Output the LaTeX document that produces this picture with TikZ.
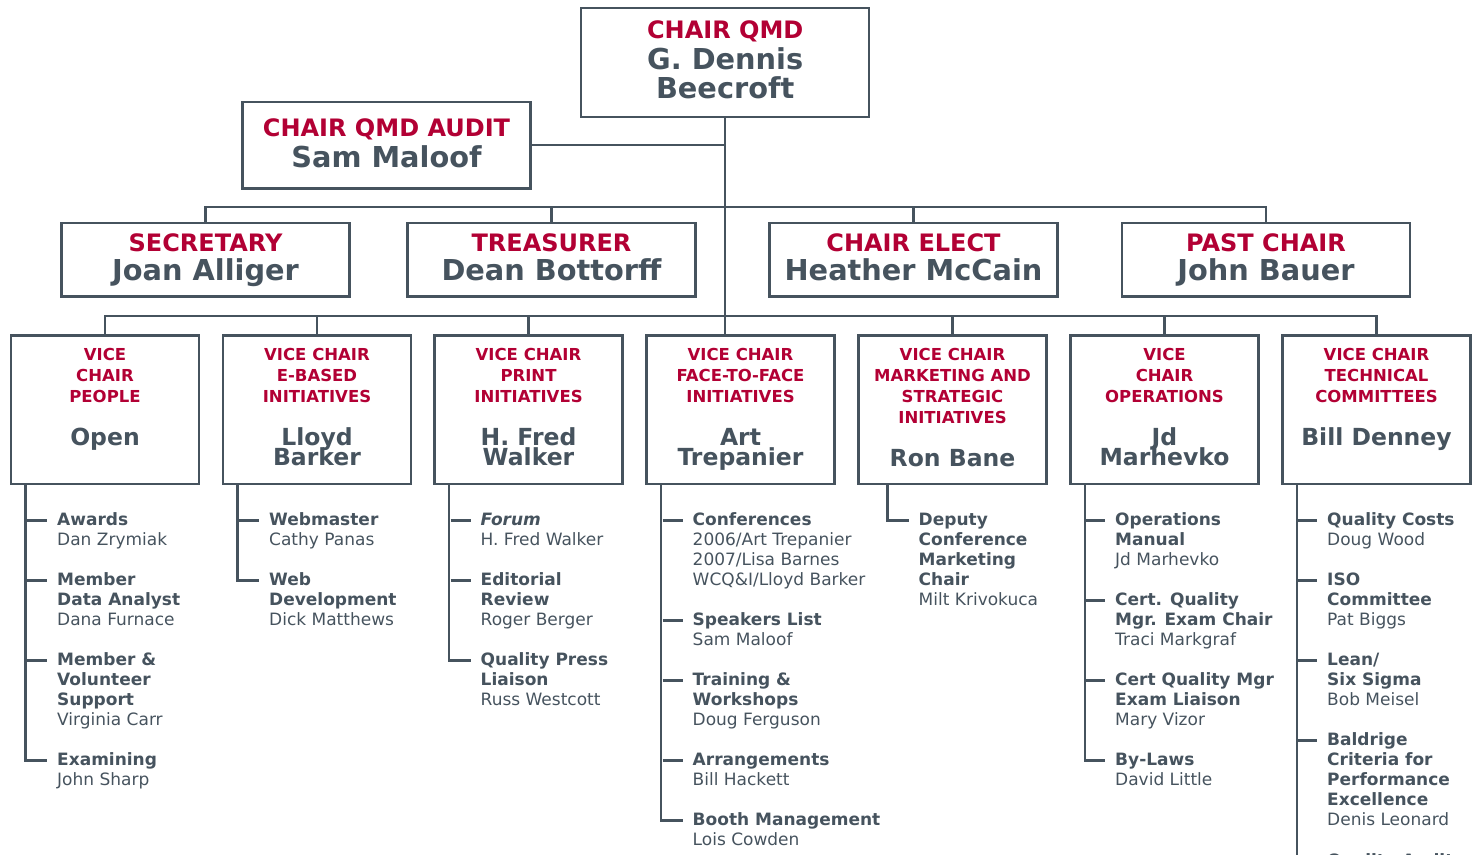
\documentclass[tikz,border=0pt]{standalone}
\usepackage{fontspec}
\setmainfont{DejaVu Sans}
\usetikzlibrary{calc}
\definecolor{qred}{HTML}{B20034}
\definecolor{qgray}{HTML}{46535E}
\newcommand{\tightlines}{\lineskiplimit=-50pt}
\tikzset{
  link/.style={draw=qgray, line width=2.4pt},
  box/.style={draw=qgray, line width=2.4pt, inner sep=0pt},
  bigbox/.style={box, minimum width=288pt, minimum height=73.6pt},
  vcbox/.style={box, minimum width=188pt, minimum height=148.5pt},
  head/.style={text=qred, anchor=base, align=center, inner sep=0pt, font=\bfseries\fontsize{24}{29}\selectfont},
  who/.style={text=qgray, anchor=base, align=center, inner sep=0pt, font=\bfseries\fontsize{28.8}{29}\selectfont\tightlines},
  vchead/.style={head, font=\bfseries\fontsize{16.5}{21}\selectfont},
  vcwho/.style={who, font=\bfseries\fontsize{23.5}{20}\selectfont\tightlines},
  item/.style={text=qgray, anchor=north west, align=left, inner sep=0pt, font=\fontsize{17}{20}\selectfont\tightlines, execute at begin node=\strut},
}
\begin{document}
\begin{tikzpicture}[x=1pt,y=-1pt]
  \useasboundingbox (0,0) rectangle (1479,854);
  \clip (0,0) rectangle (1479,854);
  % chair and audit
  \node[box, minimum width=288pt, minimum height=109pt] (chair) at (725.2,62.3) {};
  \node[head] (chairT) at (725.2,38) {CHAIR QMD};
  \node[who] (chairN) at (725.2,98) {G. Dennis\\Beecroft};
  \node[box, minimum width=288pt, minimum height=86.7pt] (audit) at (386.5,145.2) {};
  \node[head] (auditT) at (386.5,136.5) {CHAIR QMD AUDIT};
  \node[who] (auditN) at (386.5,167) {Sam Maloof};
  % officers
  \node[bigbox] (sec) at (205.5,259.5) {};
  \node[head] at (205.5,251.5) {SECRETARY};
  \node[who] at (205.5,280) {Joan Alliger};
  \node[bigbox] (treas) at (551.5,259.5) {};
  \node[head] at (551.5,251.5) {TREASURER};
  \node[who] at (551.5,280) {Dean Bottorff};
  \node[bigbox] (elect) at (913.5,259.5) {};
  \node[head] at (913.5,251.5) {CHAIR ELECT};
  \node[who] at (913.5,280) {Heather McCain};
  \node[bigbox] (past) at (1266,259.5) {};
  \node[head] at (1266,251.5) {PAST CHAIR};
  \node[who] at (1266,280) {John Bauer};
  % vice chairs
  \node[vcbox] (vc1) at (105,409.8) {};
  \node[vchead] at (105,402.5) {VICE\\CHAIR\\PEOPLE};
  \node[vcwho] at (105,445.5) {Open};
  \node[vcbox] (vc2) at (317,409.8) {};
  \node[vchead] at (317,402.5) {VICE CHAIR\\E-BASED\\INITIATIVES};
  \node[vcwho] at (317,465.5) {Lloyd\\Barker};
  \node[vcbox] (vc3) at (528.5,409.8) {};
  \node[vchead] at (528.5,402.5) {VICE CHAIR\\PRINT\\INITIATIVES};
  \node[vcwho] at (528.5,465.5) {H. Fred\\Walker};
  \node[vcbox] (vc4) at (740.5,409.8) {};
  \node[vchead] at (740.5,402.5) {VICE CHAIR\\FACE-TO-FACE\\INITIATIVES};
  \node[vcwho] at (740.5,465.5) {Art\\Trepanier};
  \node[vcbox] (vc5) at (952.5,409.8) {};
  \node[vchead] at (952.5,423.5) {VICE CHAIR\\MARKETING AND\\STRATEGIC\\INITIATIVES};
  \node[vcwho] at (952.5,466) {Ron Bane};
  \node[vcbox] (vc6) at (1164.5,409.8) {};
  \node[vchead] at (1164.5,402.5) {VICE\\CHAIR\\OPERATIONS};
  \node[vcwho] at (1164.5,465.5) {Jd\\Marhevko};
  \node[vcbox] (vc7) at (1376.5,409.8) {};
  \node[vchead] at (1376.5,402.5) {VICE CHAIR\\TECHNICAL\\COMMITTEES};
  \node[vcwho] at (1376.5,445.5) {Bill Denney};
  % tree lines
  \coordinate (bus2) at (725.2,206.7);
  \coordinate (bus3) at (725.2,315.7);
  \draw[link] (chair.south) -- (chair.south |- vc4.north);
  \draw[link] (audit.east) -- (audit.east -| chair.south);
  \draw[link] (sec.north) |- (bus2) -| (past.north);
  \draw[link] (treas.north) -- (treas.north |- bus2);
  \draw[link] (elect.north) -- (elect.north |- bus2);
  \draw[link] (vc1.north) |- (bus3) -| (vc7.north);
  \foreach \b in {vc2,vc3,vc5,vc6}
    \draw[link] (\b.north) -- (\b.north |- bus3);
  % people
  \node[item] (awd) at (57,512.5) {\textbf{Awards}\\Dan Zrymiak};
  \node[item] (mda) at (57,572.5) {\textbf{Member}\\\textbf{Data Analyst}\\Dana Furnace};
  \node[item] (mvs) at (57,652.5) {\textbf{Member \&}\\\textbf{Volunteer}\\\textbf{Support}\\Virginia Carr};
  \node[item] (exa) at (57,752.5) {\textbf{Examining}\\John Sharp};
  \draw[link] ([xshift=15.5pt]vc1.south west) |- ([shift={(-10pt,-8pt)}]exa.north west);
  \foreach \n in {awd,mda,mvs}
    \draw[link] ([shift={(-30pt,-8pt)}]\n.north west) -- ++(20pt,0pt);
  % e-based
  \node[item] (web) at (269,512.5) {\textbf{Webmaster}\\Cathy Panas};
  \node[item] (wdv) at (269,572.5) {\textbf{Web}\\\textbf{Development}\\Dick Matthews};
  \draw[link] ([xshift=15.5pt]vc2.south west) |- ([shift={(-10pt,-8pt)}]wdv.north west);
  \draw[link] ([shift={(-30pt,-8pt)}]web.north west) -- ++(20pt,0pt);
  % print
  \node[item] (frm) at (480.5,512.5) {\textbf{\textit{Forum}}\\H. Fred Walker};
  \node[item] (edr) at (480.5,572.5) {\textbf{Editorial}\\\textbf{Review}\\Roger Berger};
  \node[item] (qpl) at (480.5,652.5) {\textbf{Quality Press}\\\textbf{Liaison}\\Russ Westcott};
  \draw[link] ([xshift=15.5pt]vc3.south west) |- ([shift={(-10pt,-8pt)}]qpl.north west);
  \foreach \n in {frm,edr}
    \draw[link] ([shift={(-30pt,-8pt)}]\n.north west) -- ++(20pt,0pt);
  % face-to-face
  \node[item] (cnf) at (692.5,512.5) {\textbf{Conferences}\\2006/Art Trepanier\\2007/Lisa Barnes\\WCQ\&I/Lloyd Barker};
  \node[item] (spk) at (692.5,612.5) {\textbf{Speakers List}\\Sam Maloof};
  \node[item] (trw) at (692.5,672.5) {\textbf{Training \&}\\\textbf{Workshops}\\Doug Ferguson};
  \node[item] (arr) at (692.5,752.5) {\textbf{Arrangements}\\Bill Hackett};
  \node[item] (bth) at (692.5,812.5) {\textbf{Booth Management}\\Lois Cowden};
  \draw[link] ([xshift=15.5pt]vc4.south west) |- ([shift={(-10pt,-8pt)}]bth.north west);
  \foreach \n in {cnf,spk,trw,arr}
    \draw[link] ([shift={(-30pt,-8pt)}]\n.north west) -- ++(20pt,0pt);
  % marketing
  \node[item] (dcm) at (918.5,512.5) {\textbf{Deputy}\\\textbf{Conference}\\\textbf{Marketing}\\\textbf{Chair}\\Milt Krivokuca};
  \draw[link] ([xshift=30pt]vc5.south west) |- ([shift={(-10pt,-8pt)}]dcm.north west);
  % operations
  \node[item] (opm) at (1115,512.5) {\textbf{Operations}\\\textbf{Manual}\\Jd Marhevko};
  \node[item] (cqe) at (1115,592.5) {\textbf{Cert. Quality}\\\textbf{Mgr. Exam Chair}\\Traci Markgraf};
  \node[item] (cql) at (1115,672.5) {\textbf{Cert Quality Mgr}\\\textbf{Exam Liaison}\\Mary Vizor};
  \node[item] (byl) at (1115,752.5) {\textbf{By-Laws}\\David Little};
  \draw[link] ([xshift=15.5pt]vc6.south west) |- ([shift={(-10pt,-8pt)}]byl.north west);
  \foreach \n in {opm,cqe,cql}
    \draw[link] ([shift={(-30pt,-8pt)}]\n.north west) -- ++(20pt,0pt);
  % technical
  \node[item] (qco) at (1327,512.5) {\textbf{Quality Costs}\\Doug Wood};
  \node[item] (iso) at (1327,572.5) {\textbf{ISO}\\\textbf{Committee}\\Pat Biggs};
  \node[item] (lss) at (1327,652.5) {\textbf{Lean/}\\\textbf{Six Sigma}\\Bob Meisel};
  \node[item] (bal) at (1327,732.5) {\textbf{Baldrige}\\\textbf{Criteria for}\\\textbf{Performance}\\\textbf{Excellence}\\Denis Leonard};
  \node[item] (qau) at (1327,852.5) {\textbf{Quality Audit}};
  \draw[link] ([xshift=15.5pt]vc7.south west) |- ([shift={(-10pt,-8pt)}]qau.north west);
  \foreach \n in {qco,iso,lss,bal}
    \draw[link] ([shift={(-30pt,-8pt)}]\n.north west) -- ++(20pt,0pt);
\end{tikzpicture}
\end{document}
